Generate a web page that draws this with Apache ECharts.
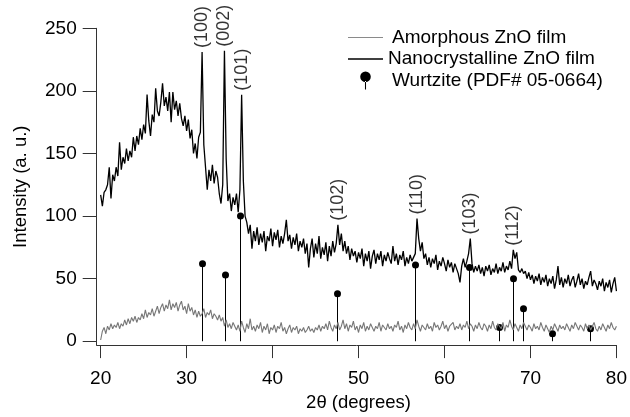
<!DOCTYPE html>
<html>
<head>
<meta charset="utf-8">
<title>ZnO XRD</title>
<script src="https://cdn.jsdelivr.net/npm/echarts@6/dist/echarts.min.js"></script>
<style>
  html, body { margin: 0; padding: 0; background: #fff; }
  #chart { width: 630px; height: 417px; }
</style>
</head>
<body>
<div id="chart"></div>
<script>
// 2theta grid of the scans: 20..80 deg, 0.2 deg step
const angleStart = 20;
const angleStep = 0.2;

// amorphous film (grey trace), one value per step
const amorphous = [
  1, 8, 11, 6, 12, 9, 14, 10, 13, 11,
  15, 10, 14, 12, 17, 13, 18, 14, 19, 16,
  20, 15, 19, 17, 22, 18, 25, 19, 23, 21,
  26, 20, 24, 28, 22, 27, 30, 24, 29, 26,
  33, 25, 30, 27, 31, 24, 29, 32, 25, 28,
  22, 30, 24, 27, 21, 25, 19, 24, 20, 22,
  26, 19, 23, 21, 25, 18, 22, 20, 17, 21,
  16, 19, 12, 17, 11, 14, 10, 15, 12, 9,
  13, 8, 16, 11, 7, 14, 10, 18, 9, 12,
  8, 13, 10, 15, 7, 12, 9, 14, 6, 11,
  9, 13, 7, 12, 10, 15, 8, 11, 6, 10,
  13, 7, 11, 9, 12, 6, 10, 8, 11, 7,
  9, 12, 8, 10, 7, 11, 9, 13, 8, 12,
  10, 14, 9, 16, 11, 8, 13, 10, 15, 9,
  12, 17, 10, 14, 8, 13, 11, 16, 9, 12,
  7, 13, 10, 15, 8, 12, 9, 14, 11, 8,
  12, 10, 15, 8, 13, 11, 9, 14, 10, 12,
  8, 13, 11, 16, 9, 12, 7, 13, 10, 15,
  11, 9, 14, 10, 17, 12, 8, 13, 11, 9,
  14, 10, 12, 8, 15, 11, 13, 9, 12, 16,
  10, 13, 8, 12, 11, 15, 9, 12, 10, 14,
  9, 13, 11, 16, 10, 14, 12, 8, 13, 10,
  15, 11, 9, 14, 12, 8, 13, 10, 16, 11,
  9, 14, 12, 10, 15, 8, 13, 11, 17, 12,
  9, 14, 11, 8, 13, 10, 15, 12, 9, 13,
  11, 8, 14, 10, 12, 9, 15, 11, 8, 13,
  10, 7, 12, 9, 14, 11, 8, 13, 10, 12,
  9, 14, 11, 8, 13, 10, 15, 12, 9, 13,
  11, 8, 14, 10, 13, 9, 12, 15, 10, 8,
  12, 9, 14, 11, 8, 13, 10, 15, 11, 9,
  12
];

// nanocrystalline film (black trace)
const nanocrystalline = [
  117, 108, 119, 121, 125, 139, 114, 133, 128, 139,
  132, 159, 137, 147, 142, 154, 144, 152, 147, 163,
  152, 164, 157, 170, 161, 173, 166, 197, 176, 164,
  181, 175, 202, 184, 180, 191, 206, 188, 195, 184,
  199, 175, 199, 185, 192, 180, 190, 178, 172, 180,
  168, 177, 162, 169, 150, 158, 146, 163, 167, 231,
  157, 139, 121, 137, 128, 141, 126, 136, 131, 118,
  110, 125, 232, 146, 112, 118, 104, 115, 109, 118,
  103, 121, 197, 128, 100, 95, 86, 93, 74, 88,
  80, 91, 77, 86, 79, 88, 72, 84, 80, 90,
  76, 87, 81, 89, 75, 84, 78, 86, 97, 80,
  85, 74, 83, 77, 86, 72, 80, 75, 82, 70,
  78, 59, 74, 82, 67, 78, 70, 84, 66, 75,
  69, 79, 64, 76, 68, 80, 71, 78, 93, 77,
  86, 72, 80, 70, 76, 65, 74, 68, 72, 63,
  71, 66, 74, 60, 70, 64, 72, 58, 68, 73,
  62, 70, 65, 72, 60, 69, 64, 71, 66, 62,
  76, 64, 70, 61, 69, 65, 72, 60, 67, 62,
  69, 64, 63, 70, 98, 82, 72, 79, 66, 70,
  61, 67, 59, 66, 62, 69, 57, 64, 60, 67,
  62, 56, 65, 59, 63, 55, 62, 58, 54, 47,
  60, 66, 59, 64, 70, 82, 62, 55, 60, 56,
  61, 54, 59, 52, 60, 56, 61, 53, 58, 55,
  62, 54, 59, 56, 63, 55, 60, 57, 64, 58,
  73, 66, 71, 57, 55, 58, 54, 56, 50, 55,
  49, 53, 46, 52, 48, 54, 45, 51, 47, 53,
  44, 50, 46, 52, 42, 49, 60, 45, 51, 43,
  50, 46, 53, 44, 49, 52, 43, 48, 54, 45,
  50, 42, 48, 45, 51, 56, 44, 49, 46, 41,
  48, 44, 50, 40, 47, 43, 49, 39, 46, 51,
  40
];

// reference pattern sticks
const pdfAngles = [31.77, 34.42, 36.25, 47.54, 56.60, 62.86, 66.38, 67.96, 69.10, 72.56, 76.95];
const pdfIntensity = [62, 53, 100, 38, 61, 59, 11, 50, 26, 6, 10];

// indexed peaks
const peakNames = ['(100)', '(002)', '(101)', '(102)', '(110)', '(103)', '(112)'];
const peakAngles = [31.8, 34.4, 36.4, 47.6, 56.8, 63.0, 68.0];
const peakHeights = [231, 232, 197, 93, 98, 82, 73];

const xTicks = [20, 30, 40, 50, 60, 70, 80];
const yTicks = [0, 50, 100, 150, 200, 250];

const font = 'Liberation Sans, Arial, Helvetica, sans-serif';
const axisColor = '#333';

function toPairs(values) {
  return values.map((v, i) => [+(angleStart + i * angleStep).toFixed(2), v]);
}

const chart = echarts.init(document.getElementById('chart'));

const option = {
  animation: false,
  backgroundColor: '#fff',
  textStyle: { fontFamily: font, color: '#000' },
  grid: { left: 96.7, right: 9.3, top: 28.3, bottom: 60.3 },
  legend: {
    orient: 'vertical',
    left: 348,
    top: 28,
    padding: 0,
    itemGap: 2.5,
    itemWidth: 35,
    itemHeight: 18,
    textStyle: { fontSize: 19, color: '#000', fontFamily: font },
    data: [
      {
        name: 'Amorphous ZnO film',
        icon: 'path://M0,0L35,0L35,1L0,1Z',
        textStyle: { padding: [0, 0, 0, 4] }
      },
      {
        name: 'Nanocrystalline ZnO film',
        icon: 'path://M0,0L35,0L35,1.5L0,1.5Z'
      },
      {
        name: 'Wurtzite (PDF# 05-0664)',
        icon: 'path://M0,5A5,5 0 1,0 10,5A5,5 0 1,0 0,5ZM4.5,9L5.5,9L5.5,17L4.5,17Z',
        textStyle: { padding: [0, 0, 0, 4] }
      }
    ]
  },
  xAxis: {
    type: 'value',
    min: 19.54,
    max: 80,
    name: '2θ (degrees)',
    nameLocation: 'middle',
    nameGap: 40,
    nameTextStyle: { fontSize: 18.5, color: '#000', padding: [0, 0, 0, 4] },
    axisLine: { show: true, onZero: false, lineStyle: { color: axisColor, width: 1 } },
    axisTick: { show: true, length: 13, customValues: xTicks, lineStyle: { color: axisColor } },
    axisLabel: { customValues: xTicks, margin: 24, fontSize: 19, color: '#000' },
    splitLine: { show: false }
  },
  yAxis: {
    type: 'value',
    min: -3.08,
    max: 250,
    name: 'Intensity (a. u.)',
    nameLocation: 'middle',
    nameGap: 66,
    nameTextStyle: { fontSize: 18.5, color: '#000' },
    axisLine: { show: true, onZero: false, lineStyle: { color: axisColor, width: 1 } },
    axisTick: { show: true, length: 14, customValues: yTicks, lineStyle: { color: axisColor } },
    axisLabel: { customValues: yTicks, margin: 20, fontSize: 19, color: '#000' },
    splitLine: { show: false }
  },
  series: [
    {
      name: 'Amorphous ZnO film',
      type: 'line',
      symbol: 'none',
      lineStyle: { color: '#777', width: 1.1 },
      itemStyle: { color: '#8a8a8a' },
      data: toPairs(amorphous)
    },
    {
      name: 'Nanocrystalline ZnO film',
      type: 'line',
      symbol: 'none',
      lineStyle: { color: '#000', width: 1.3 },
      itemStyle: { color: '#000' },
      data: toPairs(nanocrystalline)
    },
    {
      name: 'Wurtzite (PDF# 05-0664)',
      type: 'custom',
      itemStyle: { color: '#000' },
      data: pdfAngles.map((a, i) => [a, pdfIntensity[i]]),
      renderItem(params, api) {
        const top = api.coord([api.value(0), api.value(1)]);
        const base = api.coord([api.value(0), 0]);
        const x = Math.round(top[0]) + 0.5;
        return {
          type: 'group',
          children: [
            { type: 'line', shape: { x1: x, y1: base[1], x2: x, y2: top[1] }, style: { stroke: '#000', lineWidth: 1 } },
            { type: 'circle', shape: { cx: x, cy: top[1], r: 3.5 }, style: { fill: '#000' } }
          ]
        };
      }
    },
    {
      name: 'peaks',
      type: 'scatter',
      symbolSize: 0,
      silent: true,
      data: peakAngles.map((a, i) => [a, peakHeights[i], peakNames[i]]),
      label: {
        show: true,
        position: 'top',
        distance: 4,
        rotate: 90,
        align: 'left',
        verticalAlign: 'middle',
        fontSize: 18,
        color: '#000',
        formatter: p => p.data[2]
      }
    }
  ]
};

chart.setOption(option);
</script>
</body>
</html>
